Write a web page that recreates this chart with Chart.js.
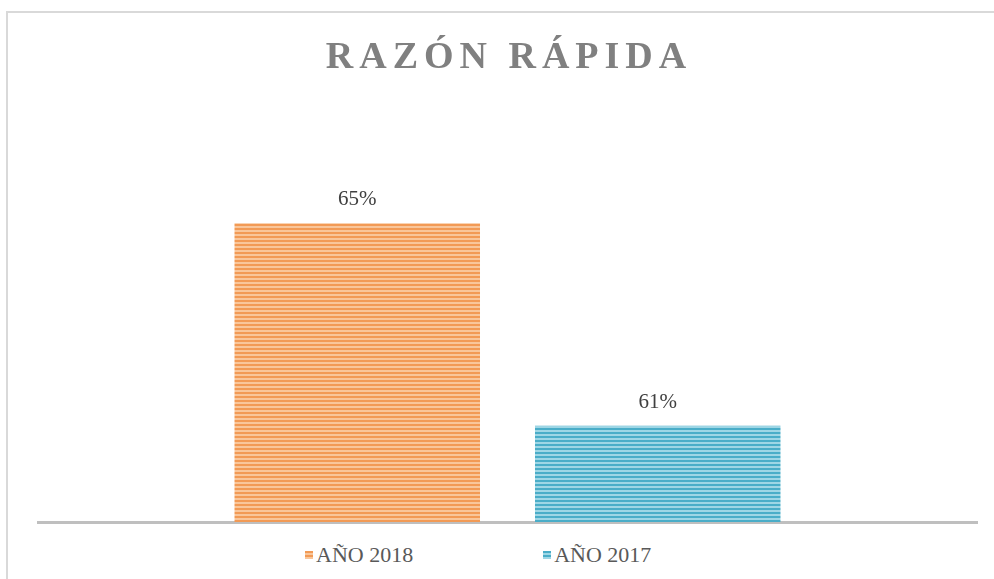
<!DOCTYPE html>
<html>
<head>
<meta charset="utf-8">
<script src="https://cdn.jsdelivr.net/npm/chart.js@4"></script>
<style>
  html, body { margin: 0; padding: 0; background: #fff; overflow: hidden; }
  body { width: 994px; height: 579px; position: relative; }
  .frame { position: absolute; left: 6px; top: 11px; width: 1000px; height: 600px;
           border-left: 2px solid #D9D9D9; border-top: 2px solid #D9D9D9; }
  .wrap { position: absolute; left: 0; top: 0; width: 994px; height: 540px; }
  #legend { position: absolute; left: 305px; top: 542px; display: flex; gap: 130px;
            font-family: "Liberation Serif", serif; font-size: 22px; color: #595959; }
  .item { display: flex; align-items: center; }
  .box { width: 8px; height: 8px; margin-right: 3px; }
</style>
</head>
<body>
<div class="frame"></div>
<div class="wrap"><canvas id="chart"></canvas></div>
<div id="legend"></div>
<script>
const chartTitle = 'RAZÓN RÁPIDA';
const categories = [''];
const seriesNames = ['AÑO 2018', 'AÑO 2017'];
const values2018 = [65];
const values2017 = [61];
const darkColors = ['#F29A55', '#4AADC8'];
const lightColors = ['#F9C69A', '#9ED6E5'];

// horizontal stripe fill like the original bars
function stripes(dark, light) {
  const c = document.createElement('canvas');
  c.width = 4;
  c.height = 4;
  const g = c.getContext('2d');
  g.fillStyle = light;
  g.fillRect(0, 0, 4, 4);
  g.fillStyle = dark;
  g.fillRect(0, 0, 4, 2);
  return g.createPattern(c, 'repeat');
}

const titlePlugin = {
  id: 'spacedTitle',
  afterDraw(chart) {
    const ctx = chart.ctx;
    ctx.save();
    ctx.font = 'bold 38px "Liberation Serif"';
    ctx.letterSpacing = '6px';
    ctx.fillStyle = '#808080';
    ctx.textAlign = 'center';
    ctx.textBaseline = 'alphabetic';
    ctx.fillText(chartTitle, 509, 68);
    ctx.restore();
  }
};

const valueLabels = {
  id: 'valueLabels',
  afterDatasetsDraw(chart) {
    const ctx = chart.ctx;
    ctx.save();
    ctx.font = '21px "Liberation Serif"';
    ctx.fillStyle = '#404040';
    ctx.textAlign = 'center';
    ctx.textBaseline = 'bottom';
    chart.data.datasets.forEach((ds, i) => {
      chart.getDatasetMeta(i).data.forEach((bar, j) => {
        ctx.fillText(ds.data[j] + '%', bar.x, bar.y - 13);
      });
    });
    ctx.restore();
  }
};

const ctx = document.getElementById('chart').getContext('2d');
new Chart(ctx, {
  type: 'bar',
  data: {
    labels: categories,
    datasets: [
      {
        label: seriesNames[0],
        data: values2018,
        backgroundColor: stripes(darkColors[0], lightColors[0])
      },
      {
        label: seriesNames[1],
        data: values2017,
        backgroundColor: stripes(darkColors[1], lightColors[1])
      }
    ]
  },
  options: {
    responsive: true,
    maintainAspectRatio: false,
    animation: false,
    categoryPercentage: 0.64,
    barPercentage: 0.817,
    layout: { padding: { top: 122, left: 38, right: 17, bottom: 10 } },
    scales: {
      x: {
        grid: { display: false },
        ticks: { display: false },
        border: { display: true, color: '#BFBFBF', width: 3 }
      },
      y: {
        display: false,
        min: 59.1,
        max: 67
      }
    },
    plugins: {
      legend: { display: false },
      tooltip: { enabled: false }
    }
  },
  plugins: [titlePlugin, valueLabels]
});

// legend under the plot
const legend = document.getElementById('legend');
seriesNames.forEach((name, i) => {
  const item = document.createElement('div');
  item.className = 'item';
  item.innerHTML = `<span class="box" style="background: repeating-linear-gradient(${darkColors[i]} 0 2px, ${lightColors[i]} 2px 4px)"></span>${name}`;
  legend.appendChild(item);
});
</script>
</body>
</html>
